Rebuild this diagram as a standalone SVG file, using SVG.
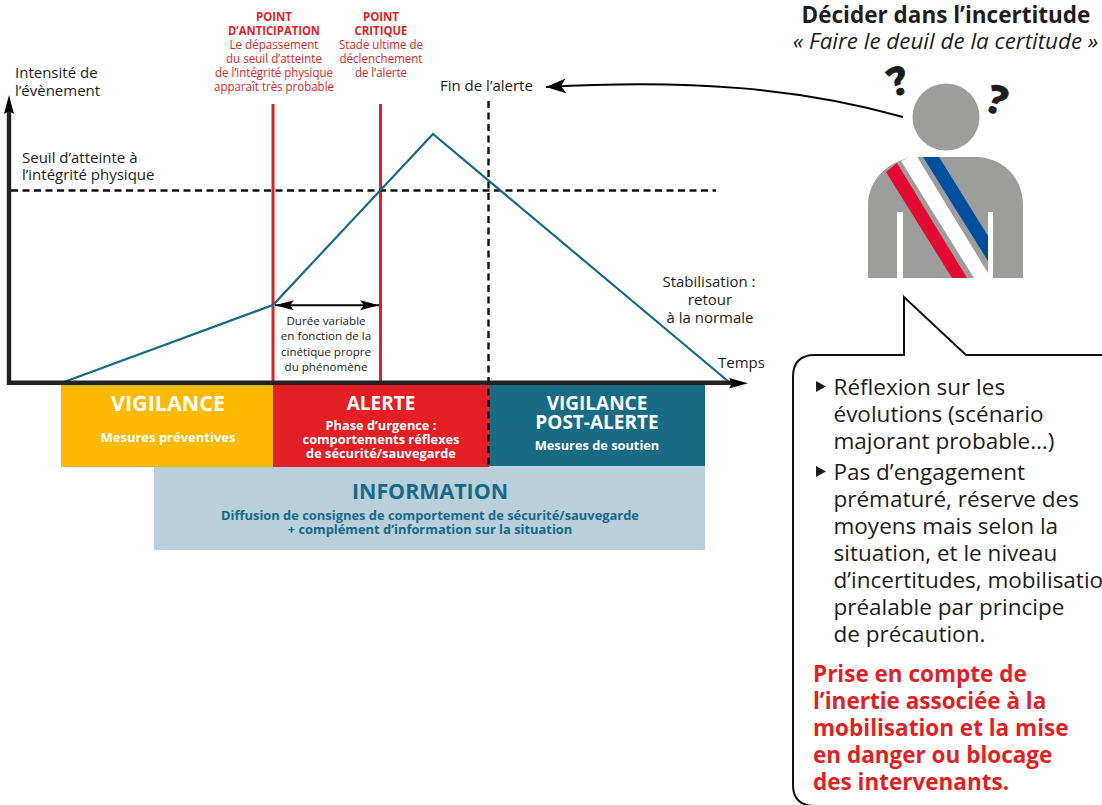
<svg xmlns="http://www.w3.org/2000/svg" width="1102" height="805" viewBox="0 0 1102 805">
<style>
text{font-family:"Open Sans","Noto Sans","Liberation Sans",sans-serif;fill:#1d1d1b}
.c{text-anchor:middle}
.l{font-size:15px}
.r{font-size:12px;fill:#e31e24;text-anchor:middle}
.rb{font-size:12px;font-weight:700;fill:#e31e24;text-anchor:middle}
.d{font-size:11.600px;text-anchor:middle}
.w{fill:#fff;font-weight:700;text-anchor:middle}
.b{fill:#176b85;font-weight:700;text-anchor:middle}
.p{font-size:22.500px;fill:#1d1d1b}
.a{font-size:22.500px;font-weight:700;fill:#e31e24}
.curve{fill:none;stroke:#176b85;stroke-width:2.200}
.red{stroke:#e31e24;stroke-width:3;fill:none}
.dash{stroke:#111;stroke-width:2.400;stroke-dasharray:7 4.500;fill:none}
.axis{stroke:#222;stroke-width:4.400;fill:none}
</style>
<defs>
<marker id="ah" markerUnits="userSpaceOnUse" markerWidth="20" markerHeight="12" refX="19" refY="5" orient="auto-start-reverse"><path d="M0 0L19 5L0 10L4 5Z" fill="#000"/></marker>
<marker id="ax" markerUnits="userSpaceOnUse" markerWidth="22" markerHeight="16" refX="20" refY="7.500" orient="auto"><path d="M0 0L20 7.500L0 15L5 7.500Z" fill="#000"/></marker>
</defs>
<g id="band-information"><rect x="154" y="466" width="551" height="84" fill="#b9cfdc"/>
<text class="b" x="430" y="499" font-size="21.400">INFORMATION</text>
<text class="b" x="430" y="520" font-size="12.900">Diffusion de consignes de comportement de sécurité/sauvegarde</text>
<text class="b" x="430" y="534" font-size="12.900">+ complément d’information sur la situation</text></g>
<g id="band-vigilance"><rect x="61" y="385" width="212" height="82" fill="#fdb900"/>
<text class="w" x="168" y="411" font-size="21.500">VIGILANCE</text>
<text class="w" x="168" y="442" font-size="13">Mesures préventives</text></g>
<g id="band-alerte"><rect x="273" y="385" width="216" height="82" fill="#e31e24"/>
<text class="w" x="381" y="410" font-size="19">ALERTE</text>
<text class="w" x="381" y="430" font-size="12.800">Phase d’urgence :</text>
<text class="w" x="381" y="444" font-size="12.800">comportements réflexes</text>
<text class="w" x="381" y="458" font-size="12.800">de sécurité/sauvegarde</text></g>
<g id="band-post-alerte"><rect x="489" y="385" width="216" height="81" fill="#176b85"/>
<text class="w" x="597" y="410" font-size="19">VIGILANCE</text>
<text class="w" x="597" y="429" font-size="19">POST-ALERTE</text>
<text class="w" x="597" y="450" font-size="12.800">Mesures de soutien</text></g>
<g id="connectors">
<path class="red" d="M273 104V384M380.500 104V384"/>
<path class="dash" d="M488.500 101V467M11 190.500H716"/>
<path class="curve" d="M64 382L273 305L433 134L729 382"/>
<path d="M9 385V105" class="axis"/>
<path d="M7 382.800H735" class="axis"/>
<path d="M9 95L14 114L9 111L4 114Z" fill="#000"/>
<path d="M729 378L748 383.300L729 388.500L732 383.300Z" fill="#000"/>
<path d="M275 305.300H379" stroke="#000" stroke-width="2" marker-start="url(#ah)" marker-end="url(#ah)"/>
<path d="M903 117C800 88 690 79 546 87" fill="none" stroke="#000" stroke-width="2" marker-end="url(#ax)"/>
</g>
<g id="labels">
<text class="l" x="15" y="78">Intensité de</text>
<text class="l" x="15" y="96">l’évènement</text>
<text class="l" x="22" y="163">Seuil d’atteinte à</text>
<text class="l" x="22" y="180">l’intégrité physique</text>
<text class="l" x="440" y="91">Fin de l’alerte</text>
<text class="l c" x="709" y="287">Stabilisation :</text>
<text class="l c" x="710" y="305">retour</text>
<text class="l c" x="710" y="323">à la normale</text>
<text class="l" x="718" y="368">Temps</text>
<text class="d" x="326" y="325">Durée variable</text>
<text class="d" x="326" y="340">en fonction de la</text>
<text class="d" x="326" y="356">cinétique propre</text>
<text class="d" x="326" y="371">du phénomène</text>
</g>
<g id="point-anticipation">
<text class="rb" x="274" y="21" textLength="36" lengthAdjust="spacingAndGlyphs">POINT</text>
<text class="rb" x="274" y="35" textLength="92" lengthAdjust="spacingAndGlyphs">D’ANTICIPATION</text>
<text class="r" x="274" y="49" textLength="89" lengthAdjust="spacingAndGlyphs">Le dépassement</text>
<text class="r" x="274" y="63" textLength="96" lengthAdjust="spacingAndGlyphs">du seuil d’atteinte</text>
<text class="r" x="274" y="77" textLength="118" lengthAdjust="spacingAndGlyphs">de l’intégrité physique</text>
<text class="r" x="274" y="91" textLength="120" lengthAdjust="spacingAndGlyphs">apparaît très probable</text>
</g>
<g id="point-critique">
<text class="rb" x="381" y="21" textLength="36" lengthAdjust="spacingAndGlyphs">POINT</text>
<text class="rb" x="381" y="35" textLength="53" lengthAdjust="spacingAndGlyphs">CRITIQUE</text>
<text class="r" x="381" y="49" textLength="84" lengthAdjust="spacingAndGlyphs">Stade ultime de</text>
<text class="r" x="381" y="63" textLength="83" lengthAdjust="spacingAndGlyphs">déclenchement</text>
<text class="r" x="381" y="77" textLength="52" lengthAdjust="spacingAndGlyphs">de l’alerte</text>
</g>
<g id="title">
<text class="c" x="946" y="23" font-size="22.500" font-weight="700" fill="#111">Décider dans l’incertitude</text>
<text class="c" x="945.500" y="49" font-size="22.400" font-style="italic">« Faire le deuil de la certitude »</text>
</g>
<g id="person">
<circle cx="946" cy="117" r="33.500" fill="#9d9d9c"/>
<path d="M868 278V205C868 178 892 157 920 157H975C1003 157 1023 178 1023 205V278H993V212H988V278H903V212H897V278Z" fill="#9d9d9c"/>
<path d="M901 161L916 155L988 273V278H974Z" fill="#fff"/>
<path d="M886 172L897 163L967 278H952Z" fill="#e30a33"/>
<path d="M923 157H939L988 236V261Z" fill="#004f9f"/>
<text x="898" y="95" font-size="40" font-weight="800" class="c" transform="rotate(-18 898 81)" fill="#111">?</text>
<text x="997" y="114" font-size="40" font-weight="800" class="c" transform="rotate(18 997 100)" fill="#111">?</text>
</g>
<g id="bubble">
<path d="M1110 355H966L904 297V355H815Q793 355 793 377V785Q793 804 812 806H1110" fill="#fff" stroke="#111" stroke-width="2"/>
<path d="M816 381L826 386.500L816 392Z M816 466L826 471.500L816 477Z" fill="#1d1d1b"/>
<g transform="translate(0,0.500)">
<text class="p" x="833.500" y="394">Réflexion sur les</text>
<text class="p" x="833.500" y="421">évolutions (scénario</text>
<text class="p" x="833.500" y="448">majorant probable…)</text>
<text class="p" x="833.500" y="479">Pas d’engagement</text>
<text class="p" x="833.500" y="506">prématuré, réserve des</text>
<text class="p" x="833.500" y="533">moyens mais selon la</text>
<text class="p" x="833.500" y="560">situation, et le niveau</text>
<text class="p" x="833.500" y="587">d’incertitudes, mobilisation</text>
<text class="p" x="833.500" y="614">préalable par principe</text>
<text class="p" x="833.500" y="641">de précaution.</text>
<text class="a" x="813" y="681">Prise en compte de</text>
<text class="a" x="813" y="708">l’inertie associée à la</text>
<text class="a" x="813" y="735">mobilisation et la mise</text>
<text class="a" x="813" y="762">en danger ou blocage</text>
<text class="a" x="813" y="789">des intervenants.</text>
</g>
</g>
</svg>
